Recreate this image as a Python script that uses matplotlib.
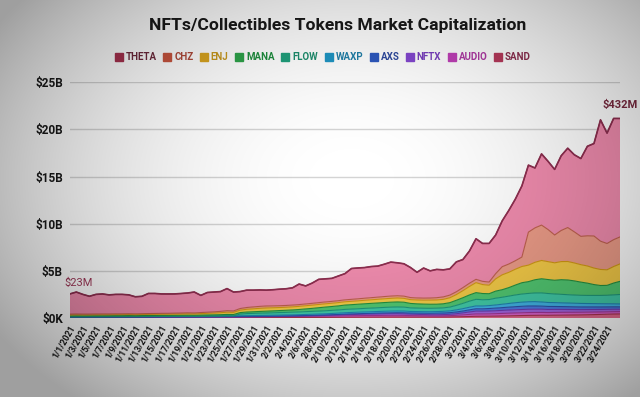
import matplotlib.pyplot as plt
from matplotlib.lines import Line2D
import numpy as np
import pandas as pd

plt.rcParams['font.family'] = ['Roboto', 'DejaVu Sans']

dates = pd.date_range('2021-01-01', '2021-03-26', freq='D')

# market cap per token, $B, one value per day (1/1 .. 3/26)
sand = [.023, .024, .024, .025, .025, .026, .026, .027, .027, .028,
        .027, .028, .029, .029, .030, .030, .031, .031, .032, .030,
        .031, .032, .033, .034, .036, .035, .037, .038, .040, .041,
        .043, .045, .046, .048, .050, .052, .055, .058, .060, .064,
        .068, .072, .078, .082, .085, .088, .090, .094, .098, .100,
        .102, .100, .094, .096, .098, .100, .102, .105, .110, .125,
        .140, .160, .180, .185, .190, .200, .215, .230, .245, .260,
        .275, .280, .290, .285, .295, .300, .310, .320, .330, .345,
        .360, .380, .400, .420, .432]
audio = [.030, .031, .030, .032, .033, .032, .034, .035, .034, .036,
         .035, .037, .038, .040, .042, .041, .043, .045, .048, .046,
         .050, .053, .056, .060, .066, .064, .070, .075, .080, .085,
         .090, .095, .100, .105, .110, .115, .120, .125, .130, .138,
         .145, .150, .155, .160, .165, .170, .172, .175, .178, .180,
         .180, .175, .160, .150, .140, .130, .125, .130, .140, .160,
         .190, .220, .250, .245, .250, .260, .270, .280, .290, .295,
         .300, .305, .300, .290, .295, .300, .295, .285, .280, .275,
         .270, .260, .255, .250, .245]
nftx = [.005, .005, .005, .006, .006, .006, .007, .007, .007, .008,
        .008, .008, .009, .009, .010, .010, .011, .011, .012, .012,
        .013, .013, .014, .015, .016, .016, .017, .018, .019, .020,
        .021, .023, .026, .030, .035, .040, .048, .055, .065, .072,
        .080, .095, .115, .125, .135, .145, .155, .165, .172, .178,
        .180, .170, .150, .140, .130, .120, .120, .125, .140, .170,
        .210, .260, .300, .290, .300, .310, .320, .330, .340, .345,
        .350, .345, .340, .330, .320, .310, .300, .290, .280, .275,
        .270, .265, .260, .255, .250]
axs = [.020, .021, .021, .022, .022, .023, .023, .024, .024, .025,
       .025, .026, .026, .027, .028, .028, .029, .030, .030, .031,
       .032, .033, .034, .035, .036, .036, .037, .038, .039, .040,
       .040, .041, .042, .043, .044, .045, .046, .048, .050, .052,
       .055, .058, .062, .066, .070, .074, .078, .082, .086, .092,
       .100, .110, .120, .130, .140, .150, .165, .170, .175, .185,
       .200, .225, .250, .255, .265, .280, .295, .310, .325, .340,
       .350, .345, .330, .320, .310, .300, .295, .290, .285, .280,
       .275, .270, .265, .260, .255]
waxp = [.050, .052, .051, .053, .054, .053, .055, .056, .055, .057,
        .056, .058, .059, .060, .060, .061, .062, .063, .064, .062,
        .064, .066, .068, .070, .074, .073, .076, .078, .080, .082,
        .084, .087, .090, .093, .096, .100, .105, .110, .115, .122,
        .130, .140, .150, .155, .160, .165, .170, .175, .178, .180,
        .180, .178, .170, .165, .165, .168, .170, .175, .190, .220,
        .250, .280, .300, .300, .310, .330, .360, .390, .420, .440,
        .450, .460, .440, .420, .410, .400, .390, .380, .370, .360,
        .350, .340, .330, .320, .310]
flow = [0, 0, 0, 0, 0, 0, 0, 0, 0, 0,
        0, 0, 0, 0, 0, 0, 0, 0, 0, 0,
        0, 0, 0, 0, 0, 0, .180, .220, .230, .240,
        .250, .260, .270, .275, .280, .290, .300, .305, .310, .320,
        .330, .340, .350, .355, .365, .375, .385, .395, .410, .420,
        .430, .420, .380, .370, .360, .360, .360, .370, .400, .480,
        .560, .640, .700, .660, .640, .720, .740, .780, .820, .860,
        .880, .920, .960, .950, .920, .900, .880, .870, .860, .860,
        .870, .880, .900, .950, 1.00]
mana = [.100, .102, .100, .098, .100, .101, .100, .102, .103, .104,
        .100, .102, .105, .106, .107, .108, .110, .112, .115, .112,
        .118, .122, .128, .135, .150, .145, .155, .165, .175, .185,
        .195, .205, .215, .225, .240, .260, .290, .320, .360, .390,
        .410, .430, .460, .470, .480, .490, .500, .505, .515, .525,
        .530, .520, .470, .450, .440, .430, .420, .430, .470, .540,
        .600, .660, .710, .660, .620, .750, .800, .900, 1.05, 1.20,
        1.25, 1.40, 1.50, 1.48, 1.45, 1.55, 1.56, 1.50, 1.40, 1.30,
        1.15, 1.05, 1.05, 1.25, 1.40]
enj = [.100, .105, .100, .098, .102, .104, .103, .106, .108, .110,
       .105, .110, .115, .118, .120, .125, .130, .135, .145, .140,
       .160, .175, .190, .210, .240, .230, .260, .290, .310, .330,
       .340, .330, .320, .320, .325, .330, .335, .340, .345, .345,
       .345, .350, .350, .355, .360, .370, .380, .390, .400, .410,
       .420, .410, .400, .410, .420, .440, .450, .470, .520, .600,
       .750, .900, 1.06, .950, .900, 1.30, 1.58, 1.62, 1.68, 1.72,
       1.75, 1.85, 1.94, 1.90, 1.85, 1.92, 1.96, 1.90, 1.85, 1.82,
       1.75, 1.70, 1.65, 1.75, 1.85]
chz = [.080, .082, .081, .080, .082, .083, .082, .084, .085, .086,
       .085, .088, .090, .092, .095, .094, .097, .100, .105, .102,
       .110, .120, .130, .140, .160, .150, .170, .190, .200, .210,
       .210, .200, .195, .190, .190, .188, .190, .192, .195, .198,
       .200, .200, .205, .210, .215, .220, .225, .230, .235, .240,
       .240, .235, .220, .215, .215, .220, .240, .260, .280, .300,
       .320, .340, .350, .340, .340, .550, .860, .880, .900, 1.00,
       3.50, 3.65, 3.75, 3.40, 2.95, 3.30, 3.60, 3.30, 3.00, 3.20,
       3.40, 3.00, 2.79, 2.85, 2.86]
theta = [2.14, 2.33, 2.09, 1.89, 2.08, 2.12, 2.02, 2.06, 2.06, 2.00,
         1.81, 1.84, 2.13, 2.12, 2.06, 2.05, 2.04, 2.07, 2.10, 2.22,
         1.82, 2.09, 2.10, 2.10, 2.34, 2.00, 1.80, 1.84, 1.78, 1.74,
         1.68, 1.71, 1.75, 1.77, 1.83, 2.18, 1.91, 2.15, 2.47, 2.45,
         2.44, 2.62, 2.78, 3.27, 3.27, 3.25, 3.30, 3.29, 3.43, 3.60,
         3.49, 3.43, 3.19, 2.72, 3.19, 2.88, 3.00, 2.87, 2.78, 3.17,
         2.98, 3.42, 4.30, 4.02, 4.09, 4.10, 4.86, 5.68, 6.53, 7.54,
         7.10, 6.35, 7.55, 7.23, 6.95, 7.92, 8.41, 8.17, 8.25, 9.49,
         9.80, 12.86, 11.70, 12.85, 12.55]

names = ['THETA', 'CHZ', 'ENJ', 'MANA', 'FLOW', 'WAXP', 'AXS', 'NFTX', 'AUDIO', 'SAND']
series = [theta, chz, enj, mana, flow, waxp, axs, nftx, audio, sand]
fills = ['#f08cae', '#ec9c88', '#f4cb48', '#52c872', '#42cba8', '#42b4e4',
         '#4d7ce2', '#a066e0', '#d862cc', '#e46a8e']
edges = ['#8e2f50', '#c0604d', '#d39a12', '#25913f', '#1e9a7c', '#1f84b0',
         '#2c50a8', '#6e3bb0', '#a03596', '#a8324f']
markers = ['#a8324f', '#c8553f', '#d9a520', '#2ea34a', '#20a07c', '#1f95c4',
           '#2e59c0', '#8448d0', '#c040b8', '#b83a5c']
txtcol = ['#6e2a3c', '#b04a3a', '#c99a20', '#1f8f3f', '#1f8f6f', '#1f7fa8',
          '#2f4a9f', '#7a40c0', '#b03aa5', '#8e2f50']

x = np.arange(len(dates))

fig = plt.figure(figsize=(6.4, 3.97), dpi=100, facecolor='white')
ax = fig.add_axes([0.109, 0.199, 0.860, 0.594])
ax.set_facecolor('none')

# stack from the bottom (SAND) up to THETA
ys = series[::-1]
ax.stackplot(x, ys, colors=fills[::-1], linewidth=0)
tops = np.cumsum(np.array(ys, dtype=float), axis=0)
for top, ec in zip(tops, edges[::-1]):
    ax.plot(x, top, color=ec, lw=0.8)
ax.plot(x, tops[-1], color=edges[0], lw=1.2)

ax.set_xlim(0, len(dates) - 1)
ax.set_ylim(0, 25)
ax.set_yticks([0, 5, 10, 15, 20, 25])
ax.set_yticklabels(['$0K', '$5B', '$10B', '$15B', '$20B', '$25B'],
                   fontsize=8.5, fontweight='bold', color='#1a1a1a')
ticks = x[::2][:-1]
ax.set_xticks(ticks)
ax.set_xticklabels([f'{dates[i].month}/{dates[i].day}/{dates[i].year}' for i in ticks],
                   rotation=60, ha='right', va='top', rotation_mode='anchor',
                   fontsize=6.3, fontweight='bold', color='#1a1a1a')
ax.tick_params(length=0, pad=4)
ax.tick_params(axis='y', pad=5)
for s in ax.spines.values():
    s.set_visible(False)
ax.yaxis.grid(True, color='#d4d4d4', lw=1)
ax.set_axisbelow(True)

ax.text(1.3, 3.75, '$23M', ha='center', va='center', fontsize=8,
        color='#a03a5a', clip_on=False)
ax.text(len(dates) - 1, 22.6, '$432M', ha='center', va='center', fontsize=8,
        fontweight='bold', color='#7a2a40', clip_on=False)

fig.text(0.528, 0.935, 'NFTs/Collectibles Tokens Market Capitalization',
         ha='center', va='center', fontsize=12.6, fontweight='bold', color='#1a1a1a')

handles = [Line2D([], [], marker='s', ls='none', markersize=5.5, color=c) for c in markers]
fig.legend(handles, names, loc='center', bbox_to_anchor=(0.505, 0.856), ncol=10,
           frameon=False, prop={'size': 7, 'weight': 'bold'}, labelcolor=txtcol,
           handlelength=0.7, handletextpad=0.35, columnspacing=0.75)

# photo-like vignette over the whole picture
h, w = 397, 640
u = np.linspace(0, 1, w)[None, :]
v = np.linspace(0, 1, h)[:, None]
r = ((u - 0.55) / 0.62) ** 2 + ((v - 0.45) / 0.7) ** 2
alpha = np.clip(0.34 * r, 0, 0.38)
img = np.zeros((h, w, 4))
img[..., 3] = alpha
ov = fig.add_axes([0, 0, 1, 1], zorder=10)
ov.imshow(img, aspect='auto', interpolation='bilinear')
ov.axis('off')

fig.savefig('out.png', dpi=100)
